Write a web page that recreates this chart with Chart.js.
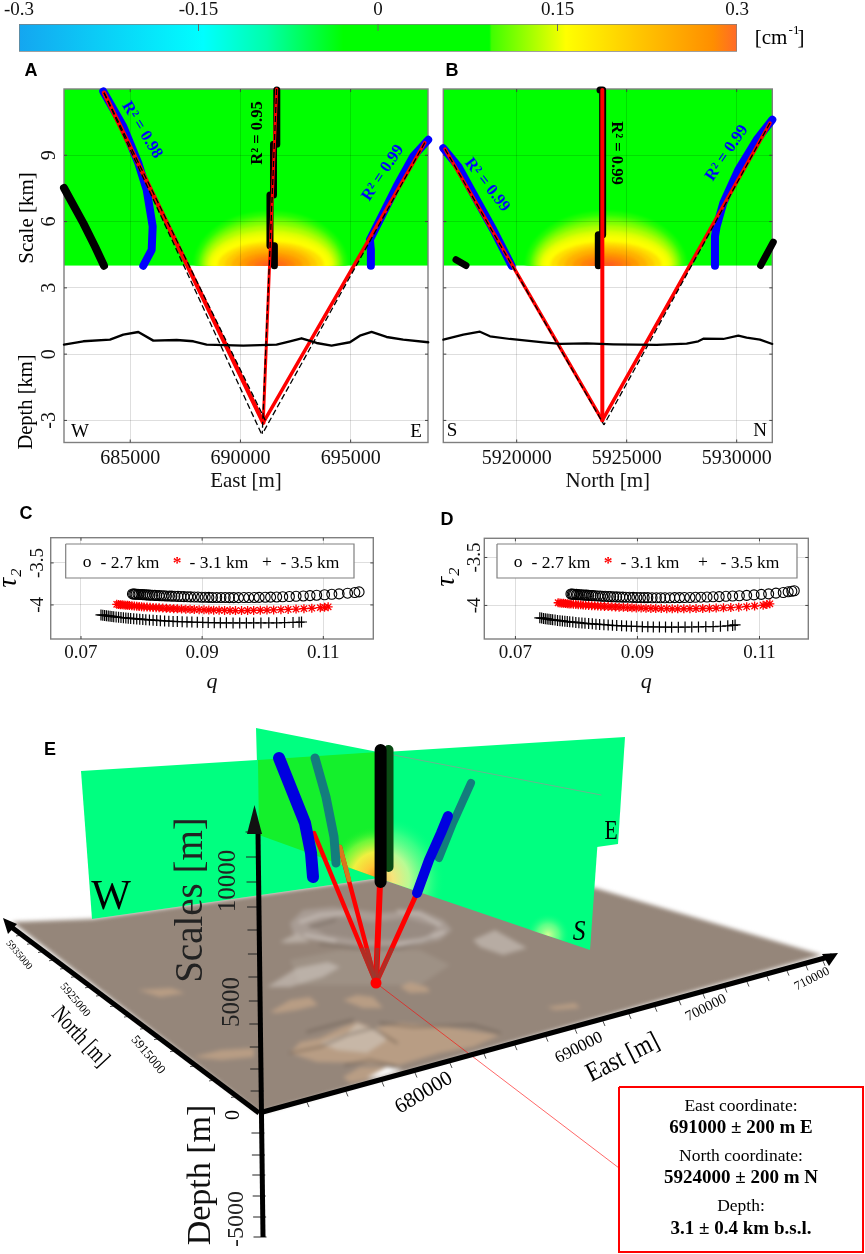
<!DOCTYPE html>
<html>
<head>
<meta charset="utf-8">
<title>Depth estimate</title>
<script src="https://cdn.jsdelivr.net/npm/chart.js@4"></script>
<style>
  body { margin: 0; background: #fff; }
  #page { position: relative; width: 865px; height: 1254px; overflow: hidden; }
  canvas { position: absolute; }
  #relief { filter: blur(2.2px); }
</style>
</head>
<body>
<div id="page">
  <canvas id="bar" width="865" height="60" style="left:0;top:0"></canvas>
  <canvas id="panelA" width="436" height="434" style="left:0;top:60px"></canvas>
  <canvas id="panelB" width="429" height="434" style="left:436px;top:60px"></canvas>
  <canvas id="panelC" width="420" height="170" style="left:0;top:525px"></canvas>
  <canvas id="panelD" width="425" height="170" style="left:420px;top:525px"></canvas>
  <canvas id="relief" width="865" height="1254" style="left:0;top:0"></canvas>
  <canvas id="overlay" width="865" height="1254" style="left:0;top:0"></canvas>
</div>
<script>
const SERIF = '"Liberation Serif"';

// colour bar
const barTicks = [-0.3, -0.15, 0, 0.15, 0.3];
const barStopValues = [-0.3, -0.146, -0.093, -0.029, 0.093, 0.095, 0.15, 0.157, 0.22, 0.28, 0.3];
const barStopColors = ['#14a6f0', '#00ffff', '#00ffaa', '#00ff00', '#00ff00', '#40ff00', '#e8ff00', '#ffff00', '#ffc400', '#ff8e00', '#ff6a28'];

// anomaly contours (half widths in m, heights in km)
const heatRx = [3480, 3300, 3170, 3040, 2900, 2780, 2640, 2400, 2100, 1800, 1450, 1100, 750, 400];
const heatRy = [2.46, 2.25, 2.06, 1.85, 1.62, 1.42, 1.25, 1.08, 0.93, 0.78, 0.60, 0.44, 0.28, 0.14];
const heatColors = ['#20ff00', '#50ff00', '#80ff00', '#b0ff00', '#dcff00', '#f4ff00', '#ffff00', '#ffe000', '#ffc800', '#ffb000', '#ff9800', '#ff8208', '#ff6e14', '#ff5c20'];

// panel A
const eastTicks = [685000, 690000, 695000];
const depthTicks = [-3, 0, 3, 6, 9];
const eastRidgeW = [[683778, 11.89], [684685, 10.30], [685365, 8.65], [685746, 7.44], [686018, 5.78], [685973, 4.72], [685592, 4.0]];
const eastBlackW = [[681995, 7.52], [682871, 5.93], [683401, 4.87], [683810, 4.0]];
const eastRidgeE = [[698517, 9.70], [697837, 8.95], [697084, 7.59], [696327, 6.08], [695873, 5.18], [695918, 4.72], [695918, 4.0]];
const eastBlackC = [[691650, 11.95], [691650, 9.5], [691500, 9.5], [691500, 7.2], [691340, 7.2], [691340, 4.9], [691540, 4.9], [691540, 4.0]];
const eastFitW = [[683810, 11.83], [691034, -3.1]];
const eastFitC = [[691642, 12], [691034, -3.1]];
const eastFitE = [[698367, 9.57], [691034, -3.1]];
const eastDashW1 = [[683810, 11.83], [690950, -3.6]];
const eastDashW2 = [[683810, 11.83], [691130, -3.0]];
const eastDashC = [[691642, 12], [690990, -3.6]];
const eastDashE = [[698367, 9.57], [691000, -3.6]];
const eastTopo = [[681995, 0.43], [682872, 0.58], [684082, 0.656], [684686, 0.882], [685367, 1.003], [686047, 0.611], [687105, 0.641], [687861, 0.58], [688466, 0.43], [690128, 0.385], [691640, 0.43], [692245, 0.58], [692774, 0.716], [693455, 0.505], [694135, 0.385], [694966, 0.535], [695420, 0.837], [695949, 1.003], [696629, 0.777], [697385, 0.656], [698519, 0.535]];

// panel B
const northTicks = [5920000, 5925000, 5930000];
const northRidgeS = [[5916665, 9.32], [5917347, 8.49], [5918180, 6.99], [5918938, 5.63], [5919771, 4.0]];
const northRidgeN = [[5931618, 10.61], [5930906, 9.70], [5930073, 8.34], [5929391, 6.84], [5929088, 5.78], [5929012, 5.33], [5929012, 4.0]];
const northBlackC = [[5923786, 11.96], [5923907, 11.96], [5923907, 5.40], [5923710, 5.40], [5923710, 4.0]];
const northBlackS = [[5917241, 4.27], [5917695, 4.01]];
const northBlackN = [[5931663, 5.07], [5931087, 4.01]];
const northFitS = [[5916741, 9.28], [5923892, -3]];
const northFitC = [[5923892, 11.96], [5923892, -3]];
const northFitN = [[5931512, 10.46], [5923892, -3]];
const northDashS = [[5916741, 9.28], [5923967, -3.2]];
const northDashN = [[5931512, 10.46], [5923967, -3.2]];
const northTopo = [[5916665, 0.656], [5917574, 0.882], [5918331, 1.018], [5918786, 0.807], [5919695, 0.686], [5921210, 0.535], [5921968, 0.46], [5923180, 0.49], [5924392, 0.445], [5926361, 0.415], [5927725, 0.475], [5928255, 0.58], [5928482, 0.70], [5929391, 0.686], [5930073, 0.837], [5930451, 0.747], [5931058, 0.656], [5931618, 0.46]];

// panel C, q and tau2
const qTicks = [0.07, 0.09, 0.11];
const tauTicks = [-4, -3.5];
const qCircleC = [.0785,.0787,.0789,.0791,.0794,.0796,.0799,.0802,.0805,.0808,.0811,.0814,.0818,.0822,.0825,.0829,.0833,.0837,.0841,.0846,.0850,.0855,.0860,.0865,.0870,.0876,.0881,.0887,.0893,.0899,.0905,.0911,.0917,.0924,.0931,.0938,.0945,.0952,.0960,.0969,.0977,.0986,.0994,.1004,.1013,.1023,.1033,.1044,.1055,.1067,.1078,.1089,.1102,.1114,.1126,.1140,.1152,.1159];
const tauCircleC = [-3.869,-3.870,-3.871,-3.872,-3.873,-3.875,-3.876,-3.877,-3.879,-3.880,-3.882,-3.883,-3.885,-3.886,-3.887,-3.889,-3.890,-3.891,-3.893,-3.894,-3.895,-3.897,-3.898,-3.900,-3.901,-3.902,-3.904,-3.905,-3.906,-3.908,-3.909,-3.910,-3.911,-3.911,-3.912,-3.912,-3.913,-3.913,-3.913,-3.912,-3.912,-3.911,-3.910,-3.908,-3.907,-3.905,-3.903,-3.900,-3.897,-3.893,-3.889,-3.884,-3.879,-3.873,-3.868,-3.860,-3.852,-3.845];
const qStarC = [.0759,.0762,.0765,.0768,.0771,.0774,.0777,.0780,.0784,.0788,.0792,.0796,.0800,.0804,.0809,.0814,.0819,.0824,.0829,.0835,.0841,.0847,.0853,.0859,.0866,.0873,.0880,.0887,.0895,.0903,.0911,.0919,.0928,.0937,.0946,.0955,.0965,.0975,.0985,.0996,.1007,.1018,.1030,.1042,.1055,.1068,.1081,.1095,.1102,.1108];
const tauStarC = [-3.992,-3.994,-3.997,-3.999,-4.001,-4.003,-4.005,-4.007,-4.010,-4.013,-4.015,-4.018,-4.020,-4.023,-4.025,-4.028,-4.030,-4.032,-4.034,-4.037,-4.040,-4.042,-4.044,-4.046,-4.048,-4.050,-4.052,-4.054,-4.056,-4.058,-4.060,-4.062,-4.063,-4.065,-4.066,-4.067,-4.067,-4.066,-4.065,-4.063,-4.061,-4.059,-4.056,-4.053,-4.049,-4.044,-4.039,-4.032,-4.028,-4.022];
const qCrossC = [.0733,.0736,.0739,.0742,.0745,.0748,.0751,.0754,.0758,.0762,.0766,.0770,.0774,.0778,.0782,.0787,.0792,.0797,.0802,.0807,.0813,.0819,.0825,.0831,.0838,.0845,.0852,.0859,.0867,.0875,.0883,.0892,.0901,.0910,.0920,.0930,.0940,.0951,.0962,.0973,.0985,.0997,.1010,.1023,.1036,.1050,.1060,.1064];
const tauCrossC = [-4.119,-4.122,-4.125,-4.128,-4.131,-4.134,-4.137,-4.140,-4.143,-4.146,-4.149,-4.152,-4.155,-4.157,-4.160,-4.163,-4.166,-4.169,-4.172,-4.175,-4.178,-4.181,-4.184,-4.187,-4.190,-4.193,-4.196,-4.198,-4.200,-4.202,-4.204,-4.206,-4.208,-4.210,-4.211,-4.212,-4.213,-4.214,-4.214,-4.214,-4.214,-4.214,-4.213,-4.212,-4.210,-4.208,-4.206,-4.203];

// panel D
const qCircleD = [.0791,.0793,.0795,.0797,.0800,.0802,.0805,.0808,.0811,.0814,.0817,.0820,.0824,.0827,.0831,.0835,.0839,.0843,.0847,.0852,.0856,.0861,.0866,.0871,.0876,.0881,.0887,.0893,.0899,.0905,.0911,.0917,.0924,.0931,.0938,.0945,.0953,.0961,.0969,.0977,.0986,.0995,.1004,.1014,.1024,.1034,.1045,.1056,.1067,.1079,.1091,.1103,.1115,.1127,.1139,.1147,.1153,.1157];
const tauCircleD = [-3.881,-3.882,-3.883,-3.884,-3.885,-3.887,-3.888,-3.889,-3.891,-3.892,-3.893,-3.895,-3.896,-3.898,-3.899,-3.901,-3.902,-3.904,-3.905,-3.907,-3.908,-3.909,-3.911,-3.912,-3.913,-3.914,-3.915,-3.916,-3.917,-3.918,-3.919,-3.919,-3.920,-3.920,-3.920,-3.920,-3.920,-3.919,-3.919,-3.918,-3.917,-3.915,-3.914,-3.912,-3.910,-3.908,-3.905,-3.902,-3.899,-3.895,-3.890,-3.885,-3.879,-3.872,-3.865,-3.858,-3.852,-3.847];
const qStarD = [.0770,.0773,.0776,.0779,.0782,.0785,.0788,.0791,.0795,.0799,.0803,.0807,.0811,.0815,.0820,.0825,.0830,.0835,.0840,.0846,.0852,.0858,.0864,.0870,.0877,.0884,.0891,.0898,.0906,.0914,.0922,.0930,.0939,.0948,.0957,.0966,.0976,.0986,.0996,.1007,.1018,.1029,.1041,.1053,.1066,.1079,.1092,.1106,.1112,.1117];
const tauStarD = [-3.972,-3.974,-3.976,-3.978,-3.980,-3.982,-3.984,-3.986,-3.988,-3.990,-3.992,-3.994,-3.996,-3.998,-4.000,-4.002,-4.004,-4.006,-4.008,-4.010,-4.012,-4.014,-4.016,-4.018,-4.020,-4.022,-4.024,-4.026,-4.028,-4.030,-4.031,-4.032,-4.033,-4.034,-4.035,-4.035,-4.035,-4.034,-4.033,-4.032,-4.030,-4.028,-4.025,-4.022,-4.018,-4.013,-4.006,-3.998,-3.991,-3.983];
const qCrossD = [.0740,.0743,.0746,.0749,.0752,.0755,.0758,.0761,.0765,.0769,.0773,.0777,.0781,.0785,.0789,.0794,.0799,.0804,.0809,.0814,.0820,.0826,.0832,.0838,.0845,.0852,.0859,.0866,.0874,.0882,.0890,.0899,.0908,.0917,.0926,.0936,.0946,.0956,.0967,.0978,.0989,.1000,.1012,.1024,.1036,.1048,.1056,.1060];
const tauCrossD = [-4.129,-4.132,-4.135,-4.138,-4.141,-4.144,-4.147,-4.150,-4.153,-4.156,-4.159,-4.162,-4.165,-4.168,-4.171,-4.174,-4.177,-4.180,-4.183,-4.186,-4.189,-4.192,-4.195,-4.198,-4.201,-4.204,-4.207,-4.210,-4.213,-4.215,-4.217,-4.219,-4.221,-4.223,-4.224,-4.225,-4.226,-4.227,-4.227,-4.226,-4.225,-4.224,-4.222,-4.220,-4.217,-4.213,-4.208,-4.203];

// panel E in page units
const terrain = [[12,922],[92,919],[378,878],[595,888],[822,955],[259,1113]];
const slopeBand = [[290,960],[340,950],[420,950],[450,965],[420,985],[350,985],[300,985]];
const craterOuter = [[290,923],[303,910],[333,907],[380,913],[420,910],[443,920],[452,930],[440,940],[407,947],[367,948],[333,943],[310,940],[293,933]];
const craterInner = [[307,925],[337,917],[373,922],[407,918],[437,927],[427,937],[397,940],[357,940],[327,935]];
const rimLight = [
  [[300,922],[320,915],[345,913]],
  [[398,911],[420,914],[440,925]],
  [[444,932],[420,941],[395,945]],
  [[305,935],[335,941]]
];
const rimDark = [[[320,944],[360,948],[400,948],[432,938]], [[310,927],[335,920]]];
const hillsLight = [
  [[280,942],[297,933],[310,942],[287,943]],
  [[473,940],[495,930],[527,948],[503,955],[480,947]],
  [[267,987],[297,968],[328,962],[340,967],[323,977],[290,987]],
  [[320,1043],[347,1033],[357,1023],[367,1027],[377,1028],[387,1040],[367,1053],[337,1050]]
];
const hillsTan = [
  [[270,1012],[290,1000],[310,997],[318,1005],[297,1010],[277,1013]],
  [[343,1000],[357,995],[373,997],[383,1008],[363,1008]],
  [[400,987],[410,982],[427,987],[430,992],[410,993]],
  [[290,1053],[300,1042],[320,1038],[343,1027],[357,1022],[373,1028],[400,1023],[447,1027],[500,1035],[473,1047],[440,1053],[400,1065],[363,1063],[317,1062]],
  [[343,1077],[360,1067],[387,1067],[367,1080],[350,1083]],
  [[193,1057],[221,1050],[254,1048],[254,1057],[221,1060]],
  [[138,990],[171,988],[185,993],[160,997]],
  [[547,1007],[575,1003],[580,1008],[555,1010]]
];
const valleys = [
  [[307,1032],[340,1023],[353,1020]],
  [[290,1053],[320,1047],[347,1035],[373,1028],[397,1043]],
  [[380,1023],[413,1027],[473,1025],[500,1033]],
  [[345,1065],[370,1060],[395,1066]]
];
const terrainNotch = [[367,1078],[387,1067],[403,1070],[380,1077]];
const planeWE = [[81,771],[625,737],[618,844],[92,919]];
const planeSN = [[378,752],[601,795],[590,950],[378,878]];
const planeSNback = [[256,728],[378,752],[378,878],[259,835]];
const planeOverlap = [[258,760],[378,752],[378,878],[259,835]];
const domeLeft = [[378,815],[330,815],[325,859],[378,878]];
const domeRight = [[380,795],[460,795],[460,906],[378,878]];
const glowS = [[524,928],[530,905],[575,905],[588,948],[570,943]];
const sourceDot = [[376,983]];
const rayBlueW = [[314,833],[376,983]];
const rayTealW = [[340,847],[376,983]];
const rayTealTop = [[340,847],[349,880]];
const rayBlack = [[380,883],[376,983]];
const rayBlueE = [[417,893],[376,983]];
const rayDim = [
  [[361.5,948],[376,983]],
  [[366.7,948],[376,983]],
  [[377.4,948],[376,983]],
  [[392.5,948],[376,983]]
];
const scarBlueW = [[279,758],[293,793],[305,823],[311,853],[313,877]];
const scarTealW = [[315,758],[326,797],[334,837],[336,863]];
const scarBlack = [[380.6,750],[380.6,882]];
const scarDark = [[388.5,750],[388.5,867]];
const scarBlueE = [[417,893],[429,860],[441,833],[448,816]];
const scarTealE = [[439,858],[453,823],[471,783]];
const leader = [[376,983],[619,1168]];
const axisEast = [[259,1113],[832,956]];
const axisNorth = [[259,1113],[10,926]];
const axisUp = [[258,832],[263,1237]];
const arrowUp = [[254.5,805],[262,834],[247,834]];
const arrowEast = [[838,953],[822,954],[829,966]];
const arrowNorth = [[3,918],[17,924],[8,934]];
const upTickY = [832,857,882,907,930,954,977,1001,1024,1047,1069,1091,1133,1155,1175,1196,1217,1237];
const eastTickX = [306,345,381,414,449,483,514,545,574,602,628,654,678,702,724,746,766,786,805,822];
const northTickX = [237,215,196,176,160,146,130,116,102,91,77,66,55,44,33,22];
const legendBoxC = [[65.7,544],[354,544],[354,578],[65.7,578],[65.7,544]];
const legendBoxD = [[497,544],[797,544],[797,578],[497,578],[497,544]];
const infoBox = [[619,1087],[863,1087],[863,1252],[619,1252],[619,1087]];

// every text that does not belong to an axis: text, x, y, options
const notes = [
  ['[cm', 771, 38, {size: 21}], ['-1', 794, 31, {size: 13}], [']', 801, 38, {size: 21}],
  ['A', 31, 71, {size: 18, sans: true}], ['B', 452, 71, {size: 18, sans: true}],
  ['C', 26, 514, {size: 18, sans: true}], ['D', 447, 520, {size: 18, sans: true}], ['E', 50, 750, {size: 18, sans: true}],
  ['Scale [km]', 27, 218, {size: 21, rot: -90}], ['Depth [km]', 27, 402, {size: 20.5, rot: -90}],
  ['R² = 0.98', 142, 130, {size: 16.5, rot: 58.6, color: '#0000ff', bold: true}],
  ['R² = 0.95', 258, 133, {size: 16.5, rot: -90, bold: true}],
  ['R² = 0.99', 383, 173, {size: 16.5, rot: -56.7, color: '#0000ff', bold: true}],
  ['R² = 0.99', 487, 185, {size: 16.5, rot: 52, color: '#0000ff', bold: true}],
  ['R² = 0.99', 616, 153, {size: 16.5, rot: 90, bold: true}],
  ['R² = 0.99', 727, 153, {size: 16.5, rot: -56, color: '#0000ff', bold: true}],
  ['W', 80, 432, {size: 19}], ['E', 416, 432, {size: 19}], ['S', 452, 431, {size: 19}], ['N', 760, 431, {size: 19}],
  ['τ₂', 9, 578, {size: 27, rot: -90, italic: true}], ['τ₂', 447, 577, {size: 27, rot: -90, italic: true}],
  ['o', 87, 562, {size: 17.5}], ['- 2.7 km', 130, 563, {size: 17.5}], ['*', 177, 563, {size: 17.5, color: '#ff0000', bold: true}],
  ['- 3.1 km', 219, 563, {size: 17.5}], ['+', 267, 562, {size: 17.5}], ['- 3.5 km', 310, 563, {size: 17.5}],
  ['o', 518, 562, {size: 17.5}], ['- 2.7 km', 561, 563, {size: 17.5}], ['*', 608, 563, {size: 17.5, color: '#ff0000', bold: true}],
  ['- 3.1 km', 650, 563, {size: 17.5}], ['+', 703, 562, {size: 17.5}], ['- 3.5 km', 750, 563, {size: 17.5}],
  ['W', 111, 898, {size: 42}], ['E', 611, 832, {size: 27, sx: 0.8}], ['S', 579, 932, {size: 30, italic: true, sx: 0.85}],
  ['Scales [m]', 192, 900, {size: 39, rot: -90, color: '#222222'}], ['Depth [m]', 201, 1175, {size: 34, rot: -90, color: '#111111'}],
  ['10000', 228, 881, {size: 25, rot: -90, color: '#222222'}], ['5000', 232, 1002, {size: 25, rot: -90, color: '#222222'}],
  ['0', 234, 1115, {size: 20, rot: -90}], ['-5000', 237, 1219, {size: 24, rot: -90, color: '#222222'}],
  ['East [m]', 623, 1058, {size: 27, rot: -27, sx: 0.85}], ['North [m]', 80, 1037, {size: 24, rot: 47, sx: 0.75}],
  ['680000', 424, 1093, {size: 21, rot: -31}], ['690000', 579, 1048, {size: 17, rot: -27}],
  ['700000', 706, 1008, {size: 14.5, rot: -27}], ['710000', 812, 979, {size: 12.5, rot: -27}],
  ['5935000', 19, 955, {size: 10, rot: 50}], ['5925000', 75, 1000, {size: 11.5, rot: 50}], ['5915000', 148, 1055, {size: 13, rot: 50}],
  ['East coordinate:', 741, 1106, {size: 17.5}], ['691000 ± 200 m E', 741, 1128, {size: 19, bold: true}],
  ['North coordinate:', 741, 1156, {size: 17.5}], ['5924000 ± 200 m N', 741, 1178, {size: 19, bold: true}],
  ['Depth:', 741, 1206, {size: 17.5}], ['3.1 ± 0.4 km b.s.l.', 741, 1229, {size: 19, bold: true}]
];

Chart.defaults.animation = false;
Chart.defaults.responsive = false;
Chart.defaults.font.family = SERIF;
Chart.defaults.color = '#111111';
Chart.defaults.layout.autoPadding = false;
Chart.defaults.plugins.legend.display = false;
Chart.defaults.plugins.tooltip.enabled = false;

function toPoints(pts) {
    return pts.map(p => ({ x: p[0], y: p[1] }));
}

function track(pts, color, width, extra) {
    return Object.assign({
        data: toPoints(pts), showLine: true, pointRadius: 0, borderColor: color, borderWidth: width,
        borderCapStyle: 'round', borderJoinStyle: 'round', fill: false, clip: false
    }, extra);
}

function dashed(pts) {
    return track(pts, '#000000', 1.3, { borderDash: [6, 3], borderCapStyle: 'butt' });
}

// first in the list is painted first
function paintOrder(datasets) {
    return datasets.map((d, i) => Object.assign(d, { order: datasets.length - i }));
}

// box and inward ticks the way the originals have them
const framePlugin = {
    id: 'frame',
    beforeDatasetsDraw(chart) {
        const { ctx, chartArea: a, scales } = chart;
        ctx.save();
        ctx.strokeStyle = '#7f7f7f';
        ctx.lineWidth = 1.4;
        ctx.strokeRect(a.left, a.top, a.width, a.height);
        ctx.strokeStyle = '#444444';
        ctx.lineWidth = 1;
        ctx.beginPath();
        scales.x.ticks.forEach(t => {
            const px = scales.x.getPixelForValue(t.value);
            ctx.moveTo(px, a.bottom); ctx.lineTo(px, a.bottom - 3);
            ctx.moveTo(px, a.top); ctx.lineTo(px, a.top + 3);
        });
        scales.y.ticks.forEach(t => {
            const py = scales.y.getPixelForValue(t.value);
            ctx.moveTo(a.left, py); ctx.lineTo(a.left + 3, py);
            ctx.moveTo(a.right, py); ctx.lineTo(a.right - 3, py);
        });
        ctx.stroke();
        ctx.restore();
    }
};

// green field above 4 km with the anomaly dome at its base
function fieldPlugin(center, widen) {
    return {
        id: 'field',
        beforeDraw(chart) {
            const { ctx, chartArea: a, scales: { x, y } } = chart;
            const base = y.getPixelForValue(4);
            ctx.save();
            ctx.beginPath();
            ctx.rect(a.left, a.top, a.width, base - a.top);
            ctx.clip();
            ctx.fillStyle = '#00ff00';
            ctx.fillRect(a.left, a.top, a.width, base - a.top);
            ctx.filter = 'blur(1.5px)';
            heatRx.forEach((rx, i) => {
                ctx.fillStyle = heatColors[i];
                ctx.beginPath();
                ctx.ellipse(x.getPixelForValue(center), base,
                    x.getPixelForValue(center + rx * widen) - x.getPixelForValue(center),
                    base - y.getPixelForValue(4 + heatRy[i]), 0, 0, Math.PI * 2);
                ctx.fill();
            });
            ctx.restore();
        }
    };
}

const notesPlugin = {
    id: 'notes',
    afterDatasetsDraw(chart) {
        const { ctx, scales: { x, y } } = chart;
        notes.forEach(([text, nx, ny, o]) => {
            ctx.save();
            ctx.translate(x.getPixelForValue(nx), y.getPixelForValue(ny));
            ctx.rotate((o.rot || 0) * Math.PI / 180);
            ctx.scale(o.sx || 1, 1);
            const family = o.sans ? '"Liberation Sans"' : SERIF;
            ctx.font = `${o.italic ? 'italic ' : ''}${o.bold || o.sans ? 'bold ' : ''}${o.size}px ${family}`;
            ctx.fillStyle = o.color || '#000000';
            ctx.textAlign = 'center';
            ctx.textBaseline = 'middle';
            ctx.fillText(text, 0, 0);
            ctx.restore();
        });
    }
};

function rotatedY(ticks, size, width, padding, showLabels) {
    return {
        min: 0, max: 1,
        afterBuildTicks: s => { s.ticks = ticks.map(v => ({ value: v })); },
        afterCalculateLabelRotation: s => { s.labelRotation = 90; },
        afterFit: s => { s.width = width; s.paddingTop = 0; s.paddingBottom = 0; },
        grid: { color: 'rgba(0,0,0,0.13)', drawTicks: false, tickLength: 0 },
        border: { display: false },
        ticks: { display: showLabels, autoSkip: false, crossAlign: 'center', padding: padding, font: { size: size }, callback: v => String(v) }
    };
}

function flatX(ticks, min, max, size, title, titleFont, height, padding) {
    return {
        type: 'linear', min: min, max: max,
        afterBuildTicks: s => { s.ticks = ticks.map(v => ({ value: v })); },
        afterFit: s => { s.height = height; s.paddingLeft = 0; s.paddingRight = 0; },
        grid: { color: 'rgba(0,0,0,0.13)', drawTicks: false, tickLength: 0 },
        border: { display: false },
        ticks: { autoSkip: false, maxRotation: 0, padding: padding, font: { size: size }, callback: v => String(v) },
        title: { display: true, text: title, font: titleFont, padding: { top: 0, bottom: 0 } }
    };
}

// colour bar
new Chart(document.getElementById('bar'), {
    type: 'bar',
    data: {
        labels: [''],
        datasets: [{
            data: [[barTicks[0], barTicks[4]]],
            barPercentage: 1, categoryPercentage: 1,
            borderColor: '#808080', borderWidth: 1, borderSkipped: false,
            backgroundColor(c) {
                const x = c.chart.scales.x;
                if (!c.chart.chartArea || !x) return '#00ff00';
                const x0 = x.getPixelForValue(barTicks[0]);
                const x1 = x.getPixelForValue(barTicks[4]);
                if (!isFinite(x0) || !isFinite(x1)) return '#00ff00';
                const g = c.chart.ctx.createLinearGradient(x0, 0, x1, 0);
                barStopValues.forEach((v, i) => g.addColorStop((v - barTicks[0]) / (barTicks[4] - barTicks[0]), barStopColors[i]));
                return g;
            }
        }]
    },
    options: {
        indexAxis: 'y',
        layout: { padding: { left: 19, right: 128, top: 0, bottom: 8.3 } },
        scales: {
            x: {
                position: 'top', min: barTicks[0], max: barTicks[4],
                afterBuildTicks: s => { s.ticks = barTicks.map(v => ({ value: v })); },
                afterFit: s => { s.height = 24; s.paddingLeft = 0; s.paddingRight = 0; },
                grid: { drawOnChartArea: false, drawTicks: false, tickLength: 0 },
                border: { display: false },
                ticks: { autoSkip: false, maxRotation: 0, padding: 3, font: { size: 19 }, callback: v => String(v) }
            },
            y: { display: false }
        }
    },
    plugins: [{
        id: 'barTicks',
        afterDatasetsDraw(chart) {
            const { ctx, chartArea: a, scales: { x } } = chart;
            ctx.save();
            ctx.strokeStyle = '#666666';
            ctx.beginPath();
            barTicks.slice(1, 4).forEach(v => {
                ctx.moveTo(x.getPixelForValue(v), a.top);
                ctx.lineTo(x.getPixelForValue(v), a.top + 7);
            });
            ctx.stroke();
            ctx.restore();
        }
    }]
});

// panel A
const panelAy = rotatedY(depthTicks, 20, 64, 6, true);
panelAy.min = -4; panelAy.max = 12;
new Chart(document.getElementById('panelA'), {
    type: 'scatter',
    data: { datasets: paintOrder([
        track(eastBlackW, '#000000', 8),
        track(eastBlackC, '#000000', 7),
        track(eastRidgeW, '#0000ff', 8),
        track(eastRidgeE, '#0000ff', 8),
        track(eastFitW, '#ff0000', 4.5),
        track(eastFitC, '#ff0000', 3),
        track(eastFitE, '#ff0000', 3.5),
        dashed(eastDashW1), dashed(eastDashW2), dashed(eastDashC), dashed(eastDashE),
        track(eastTopo, '#000000', 2.4)
    ]) },
    options: {
        layout: { padding: { top: 29, right: 8 } },
        scales: {
            x: flatX(eastTicks, 681995, 698510, 20, 'East [m]', { size: 21 }, 51.5, 4),
            y: panelAy
        }
    },
    plugins: [fieldPlugin(691380, 1), framePlugin]
});

// panel B
const panelBy = rotatedY(depthTicks, 20, 7.3, 0, false);
panelBy.min = -4; panelBy.max = 12;
new Chart(document.getElementById('panelB'), {
    type: 'scatter',
    data: { datasets: paintOrder([
        track(northBlackS, '#000000', 7),
        track(northBlackN, '#000000', 7),
        track(northBlackC, '#000000', 7),
        track(northRidgeS, '#0000ff', 8),
        track(northRidgeN, '#0000ff', 8),
        track(northFitS, '#ff0000', 3.5),
        track(northFitC, '#ff0000', 4),
        track(northFitN, '#ff0000', 3.5),
        dashed(northDashS), dashed(northDashN),
        track(northTopo, '#000000', 2.2)
    ]) },
    options: {
        layout: { padding: { top: 29, right: 92.7 } },
        scales: {
            x: flatX(northTicks, 5916664, 5931618, 20, 'North [m]', { size: 21 }, 51.5, 4),
            y: panelBy
        }
    },
    plugins: [fieldPlugin(5924059, 1.05), framePlugin]
});

function spectrumSet(q, tau, style, color, radius, stroke) {
    return {
        data: q.map((v, i) => ({ x: v, y: tau[i] })), showLine: false, pointStyle: style,
        pointRadius: radius, borderColor: color, pointBorderColor: color,
        pointBackgroundColor: 'transparent', pointBorderWidth: stroke, clip: false
    };
}

function spectrumPanel(id, sets, xMin, xMax, yMin, yMax, yWidth, yPad, padding) {
    const y = rotatedY(tauTicks, 19, yWidth, yPad, true);
    y.min = yMin; y.max = yMax;
    new Chart(document.getElementById(id), {
        type: 'scatter',
        data: { datasets: sets },
        options: {
            layout: { padding: padding },
            scales: {
                x: flatX(qTicks, xMin, xMax, 19, 'q', { size: 22, style: 'italic' }, 56, 3),
                y: y
            }
        },
        plugins: [framePlugin]
    });
}

spectrumPanel('panelC', [
    spectrumSet(qCircleC, tauCircleC, 'circle', '#000000', 5, 1.1),
    spectrumSet(qStarC, tauStarC, 'star', '#ff0000', 4.5, 1.3),
    spectrumSet(qCrossC, tauCrossC, 'cross', '#000000', 5.5, 1.2)
], 0.065, 0.11825, -4.405, -3.2, 50.7, -2.3, { top: 12.7, right: 46.7 });

spectrumPanel('panelD', [
    spectrumSet(qCircleD, tauCircleD, 'circle', '#000000', 5, 1.1),
    spectrumSet(qStarD, tauStarD, 'star', '#ff0000', 4.5, 1.3),
    spectrumSet(qCrossD, tauCrossD, 'cross', '#000000', 5.5, 1.2)
], 0.0649, 0.118, -4.35, -3.3, 64.3, -5.7, { top: 13.3, right: 36.7 });

// panel E and every free text share a page sized layer
function patch(pts, color) {
    return {
        data: toPoints(pts.concat([pts[0]])), showLine: true, pointRadius: 0, borderWidth: 0,
        borderColor: 'transparent', backgroundColor: color, fill: 'shape', clip: false
    };
}

// patch shaded outward from one spot, for the anomaly seen on the planes
function glow(pts, cx, cy, radius, offsets, colors) {
    return patch(pts, c => {
        const { chart } = c;
        const { x, y } = chart.scales;
        if (!chart.chartArea || !x) return 'transparent';
        const px = x.getPixelForValue(cx);
        const py = y.getPixelForValue(cy);
        if (!isFinite(px) || !isFinite(py)) return 'transparent';
        const g = chart.ctx.createRadialGradient(px, py, 0, px, py, radius);
        offsets.forEach((o, i) => g.addColorStop(o, colors[i]));
        return g;
    });
}

function box(pts, color, width) {
    return {
        data: toPoints(pts), showLine: true, pointRadius: 0, borderWidth: width,
        borderColor: color, backgroundColor: '#ffffff', fill: 'shape', clip: false
    };
}

function tickSet(pts, width) {
    return track(pts, '#222222', width, { borderCapStyle: 'butt' });
}

const hiddenPageAxes = {
    x: { type: 'linear', display: false, min: 0, max: 865 },
    y: { type: 'linear', display: false, min: 0, max: 1254, reverse: true }
};

const upTicks = upTickY.flatMap(y => [[245 + (y - 805) * 0.0197, y], [258 + (y - 805) * 0.0197, y], [NaN, NaN]]);
const eastMarks = eastTickX.flatMap(x => { const y = 1113 - (x - 259) * 0.274; return [[x, y], [x + 3, y + 7], [NaN, NaN]]; });
const northMarks = northTickX.flatMap(x => { const y = 1113 - (259 - x) * 0.751; return [[x, y], [x - 6, y + 1], [NaN, NaN]]; });

// soft relief under the planes
new Chart(document.getElementById('relief'), {
    type: 'scatter',
    data: { datasets: paintOrder([
        patch(terrain, '#95867a'),
        patch(slopeBand, 'rgba(175,165,155,0.35)'),
        patch(craterOuter, 'rgba(190,184,180,0.45)'),
        patch(craterInner, 'rgba(135,122,112,0.5)'),
        ...rimDark.map(r => track(r, 'rgba(90,80,72,0.45)', 2)),
        ...rimLight.map(r => track(r, 'rgba(225,220,215,0.55)', 2.5)),
        ...hillsTan.map(h => patch(h, 'rgba(196,164,136,0.75)')),
        ...hillsLight.map(h => patch(h, 'rgba(212,204,196,0.55)')),
        ...valleys.map(v => track(v, 'rgba(82,70,60,0.6)', 1.5)),
        patch(terrainNotch, '#ffffff')
    ]) },
    options: { layout: { padding: 0 }, scales: hiddenPageAxes }
});

new Chart(document.getElementById('overlay'), {
    type: 'scatter',
    data: { datasets: paintOrder([
        patch(planeWE, '#00ff80'),
        patch(planeSNback, '#00ff80'),
        patch(planeSN, '#00ff80'),
        patch(planeOverlap, '#14f02c'),
        glow(domeLeft, 378, 878, 52, [0, 0.25, 0.5, 0.75, 1], ['#ff8a20', '#ffc838', '#f0f040', 'rgba(130,250,60,0.8)', 'rgba(20,240,44,0)']),
        glow(domeRight, 380, 880, 65, [0, 0.2, 0.45, 0.75, 1], ['#f2bb55', '#f6e47c', 'rgba(205,250,150,0.9)', 'rgba(110,255,140,0.5)', 'rgba(0,255,128,0)']),
        glow(glowS, 548, 935, 22, [0, 0.5, 1], ['rgba(225,255,150,0.95)', 'rgba(150,255,140,0.6)', 'rgba(0,255,128,0)']),
        track(planeSN.slice(0, 2), 'rgba(150,150,150,0.7)', 1),
        track(rayTealW, '#ff0000', 4.5),
        track(rayTealTop, '#d8761e', 4.5),
        track(rayBlueW, '#ff0000', 4.5),
        track(rayBlack, '#ff0000', 6),
        track(rayBlueE, '#ff0000', 5),
        ...rayDim.map(r => track(r, 'rgba(150,60,50,0.75)', 4, { borderCapStyle: 'butt' })),
        track(scarTealW, '#137d7d', 9),
        track(scarTealE, '#137d7d', 8),
        track(scarDark, '#0a4a14', 10),
        track(scarBlack, '#000000', 12),
        track(scarBlueW, '#0000e0', 12),
        track(scarBlueE, '#0000e0', 10),
        track(leader, 'rgba(255,0,0,0.75)', 0.8),
        { data: toPoints(sourceDot), showLine: false, pointRadius: 5.5, pointBackgroundColor: '#ff0000', pointBorderWidth: 0, clip: false },
        tickSet(upTicks, 1), tickSet(eastMarks, 0.8), tickSet(northMarks, 0.8),
        track(axisEast, '#000000', 5, { borderCapStyle: 'butt' }),
        track(axisNorth, '#000000', 5, { borderCapStyle: 'butt' }),
        track(axisUp, '#000000', 5, { borderCapStyle: 'butt' }),
        patch(arrowUp, '#111111'), patch(arrowEast, '#000000'), patch(arrowNorth, '#000000'),
        box(legendBoxC, '#808080', 1.2), box(legendBoxD, '#808080', 1.2),
        box(infoBox, '#ff0000', 2)
    ]) },
    options: { layout: { padding: 0 }, scales: hiddenPageAxes },
    plugins: [notesPlugin]
});
</script>
</body>
</html>
